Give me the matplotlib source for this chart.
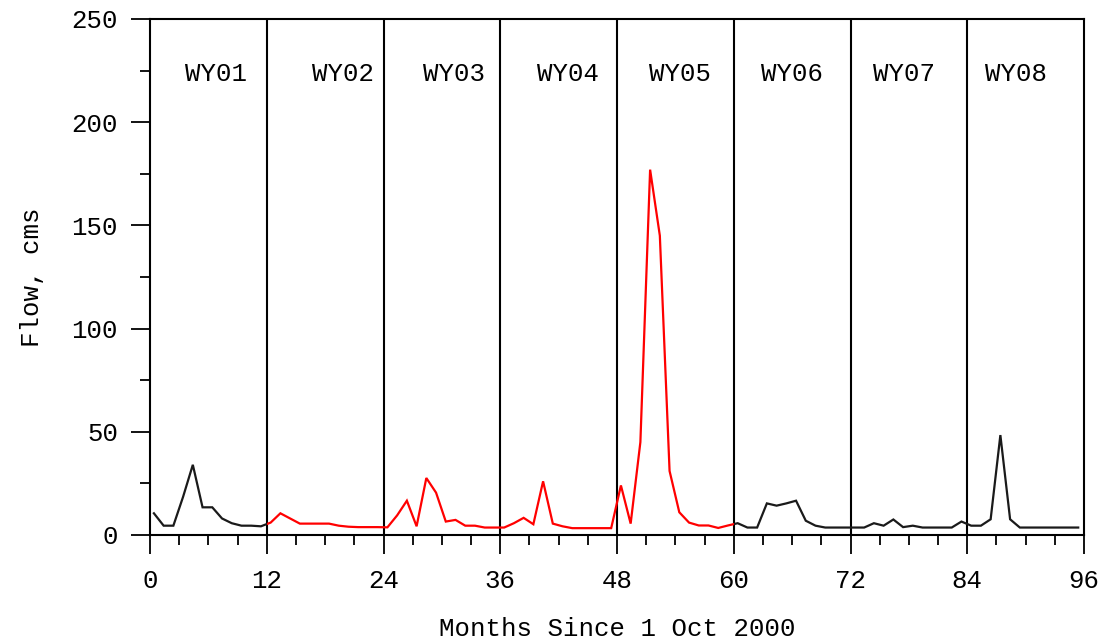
import numpy as np
import matplotlib
matplotlib.use("Agg")
import matplotlib.pyplot as plt
from matplotlib.patches import Rectangle
from matplotlib.ticker import MultipleLocator

# ---- data ----
month_index = np.arange(96)
flow = [
    10.5, 4.5, 4.5, 18.5, 34.0, 13.4, 13.4, 8.0, 5.7, 4.5, 4.5, 4.2,     # WY01
    6.0, 10.5, 8.0, 5.5, 5.5, 5.5, 5.5, 4.5, 4.0, 3.8, 3.8, 3.8,         # WY02
    3.7, 9.5, 16.6, 4.2, 27.6, 20.5, 6.5, 7.3, 4.5, 4.5, 3.6, 3.6,       # WY03
    3.6, 5.7, 8.3, 5.2, 26.0, 5.5, 4.2, 3.3, 3.3, 3.3, 3.3, 3.3,         # WY04
    24.0, 5.5, 45.0, 177.0, 145.0, 31.0, 11.0, 6.0, 4.6, 4.6, 3.4, 4.6,  # WY05
    5.7, 3.6, 3.6, 15.3, 14.2, 15.3, 16.6, 6.9, 4.5, 3.6, 3.6, 3.6,      # WY06
    3.6, 3.6, 5.7, 4.5, 7.5, 3.8, 4.5, 3.6, 3.6, 3.6, 3.6, 6.5,          # WY07
    4.5, 4.5, 7.6, 48.4, 7.6, 3.6, 3.6, 3.6, 3.6, 3.6, 3.6, 3.6,         # WY08
]
wy_labels = ["WY01", "WY02", "WY03", "WY04", "WY05", "WY06", "WY07", "WY08"]
wy_label_x = [6.8, 19.8, 31.2, 43.0, 54.5, 66.0, 77.5, 89.0]
wy_bounds = [0, 12, 24, 36, 48, 60, 72, 84, 96]
red_years = (12, 60)   # WY02-WY05 highlighted

FONT = "Liberation Mono"
FS = 18.5

fig = plt.figure(figsize=(11.17, 6.39), dpi=100)
ax = fig.add_axes([0.1343, 0.1628, 0.9705 - 0.1343, 0.9703 - 0.1628])

x = month_index + 0.4

def clipped(x0, x1, color):
    ln, = ax.plot(x, flow, color=color, lw=1.6, zorder=3, solid_joinstyle="miter")
    rect = Rectangle((x0, -1000), x1 - x0, 3000, transform=ax.transData)
    ln.set_clip_path(rect)

clipped(0, red_years[0], "#1a1a1a")
clipped(red_years[0], red_years[1], "#ff0000")
clipped(red_years[1], 96, "#1a1a1a")

for b in wy_bounds[1:-1]:
    ax.axvline(b, color="black", lw=1.5, zorder=2)

for lx, lab in zip(wy_label_x, wy_labels):
    ax.text(lx, 223.5, lab, ha="center", va="center", family=FONT,
            fontsize=FS, color="black")

ax.set_xlim(0, 96)
ax.set_ylim(0, 250)
ax.xaxis.set_major_locator(MultipleLocator(12))
ax.xaxis.set_minor_locator(MultipleLocator(3))
ax.yaxis.set_major_locator(MultipleLocator(50))
ax.yaxis.set_minor_locator(MultipleLocator(25))
ax.tick_params(which="major", length=14, width=1.3, direction="out", pad=9,
               labelsize=FS, color="black")
ax.tick_params(axis="x", which="major", pad=10.5)
ax.tick_params(which="minor", length=7, width=1.3, direction="out")
for lab in ax.get_xticklabels() + ax.get_yticklabels():
    lab.set_family(FONT)
for s in ax.spines.values():
    s.set_linewidth(1.5)
    s.set_color("black")

ax.set_xlabel("Months Since 1 Oct 2000", family=FONT, fontsize=FS, labelpad=17)
ax.set_ylabel("Flow, cms", family=FONT, fontsize=FS, labelpad=20)

fig.savefig("out.png", dpi=100)
